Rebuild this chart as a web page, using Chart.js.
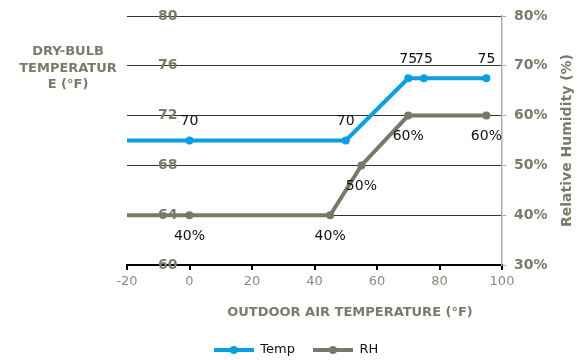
<!DOCTYPE html>
<html>
<head>
<meta charset="utf-8">
<script src="https://cdn.jsdelivr.net/npm/chart.js@4/dist/chart.umd.min.js"></script>
<style>
  html, body { margin: 0; padding: 0; background: #fff; }
  #wrap { width: 580px; height: 360px; }
</style>
</head>
<body>
<div id="wrap"><canvas id="chart"></canvas></div>
<script>
// outdoor air temperature breakpoints (°F) for each series
const tempX = [-20, 0, 50, 70, 75, 95];
const tempY = [70, 70, 70, 75, 75, 75];
const rhX = [-20, 0, 45, 55, 70, 95];
const rhY = [40, 40, 40, 50, 60, 60];

const xTicks = [-20, 0, 20, 40, 60, 80, 100];
const tempTicks = [60, 64, 68, 72, 76, 80];
const rhTicks = [30, 40, 50, 60, 70, 80];

const BLUE = '#0a9fe0';
const OLIVE = '#7a7967';
const LABEL_GRAY = '#7c7b6b';
const FONT = '"DejaVu Sans", Verdana, sans-serif';

// where the plot box and legend row should sit
const AREA_TOP = 16;
const AREA_BOTTOM = 265;
const LEGEND_MID = 346;
const PAD_LEFT = 12;
let xAxisHeight = 58;

function pairs(xs, ys) {
    return xs.map((x, i) => ({ x: x, y: ys[i] }));
}

// legend swatch: a short thick line with a dot in the middle
function swatch(color) {
    const c = document.createElement('canvas');
    c.width = 40; c.height = 10;
    const g = c.getContext('2d');
    g.strokeStyle = color;
    g.lineWidth = 4;
    g.beginPath(); g.moveTo(0, 5); g.lineTo(40, 5); g.stroke();
    g.fillStyle = color;
    g.beginPath(); g.arc(20, 5, 4, 0, Math.PI * 2); g.fill();
    return c;
}

// value labels above the temperature points and below the humidity points
const valueLabels = {
    id: 'valueLabels',
    afterDatasetsDraw(chart) {
        const ctx = chart.ctx;
        ctx.save();
        ctx.font = '14px ' + FONT;
        ctx.fillStyle = '#111';
        ctx.textAlign = 'center';
        ctx.textBaseline = 'middle';
        chart.data.datasets.forEach((ds, di) => {
            const meta = chart.getDatasetMeta(di);
            meta.data.forEach((pt, i) => {
                if (i === 0) return;
                const v = ds.data[i].y;
                if (di === 0) {
                    ctx.fillText(String(v), pt.x, pt.y - 19);
                } else {
                    ctx.fillText(v + '%', pt.x, pt.y + 21);
                }
            });
        });
        ctx.restore();
    }
};

// axis titles (left one is horizontal and wrapped, right one reads upward)
const axisTitles = {
    id: 'axisTitles',
    afterDraw(chart) {
        const ctx = chart.ctx;
        const area = chart.chartArea;
        ctx.save();
        ctx.font = 'bold 13px ' + FONT;
        ctx.fillStyle = LABEL_GRAY;
        ctx.textAlign = 'center';
        ctx.textBaseline = 'middle';

        ['DRY-BULB', 'TEMPERATUR', 'E (°F)'].forEach((line, i) => {
            ctx.fillText(line, 68, 52 + i * 16.5);
        });

        ctx.fillText('OUTDOOR AIR TEMPERATURE (°F)', 350, 313);

        ctx.font = 'bold 14px ' + FONT;
        ctx.translate(567, (area.top + area.bottom) / 2);
        ctx.rotate(-Math.PI / 2);
        ctx.fillText('Relative Humidity (%)', 0, 0);
        ctx.restore();
    }
};

const chart = new Chart(document.getElementById('chart'), {
    type: 'line',
    data: {
        datasets: [
            {
                label: 'Temp',
                data: pairs(tempX, tempY),
                yAxisID: 'y',
                borderColor: BLUE,
                backgroundColor: BLUE,
                borderWidth: 4,
                pointRadius: c => c.dataIndex === 0 ? 0 : 4,
                pointBorderWidth: 0,
                tension: 0
            },
            {
                label: 'RH',
                data: pairs(rhX, rhY),
                yAxisID: 'y2',
                borderColor: OLIVE,
                backgroundColor: OLIVE,
                borderWidth: 4,
                pointRadius: c => c.dataIndex === 0 ? 0 : 4,
                pointBorderWidth: 0,
                tension: 0
            }
        ]
    },
    options: {
        responsive: true,
        maintainAspectRatio: false,
        animation: false,
        clip: false,
        layout: { padding: { top: AREA_TOP, bottom: 0, left: PAD_LEFT, right: 0 } },
        plugins: {
            tooltip: { enabled: false },
            legend: {
                position: 'bottom',
                labels: {
                    usePointStyle: true,
                    pointStyleWidth: 40,
                    padding: 18,
                    color: '#111',
                    font: { family: FONT, size: 13 },
                    generateLabels(chart) {
                        return chart.data.datasets.map((ds, i) => ({
                            text: ds.label,
                            pointStyle: swatch(ds.borderColor),
                            fontColor: '#111',
                            lineWidth: 0,
                            datasetIndex: i
                        }));
                    }
                }
            }
        },
        scales: {
            x: {
                type: 'linear',
                min: -20,
                max: 100,
                afterBuildTicks: s => { s.ticks = xTicks.map(v => ({ value: v })); },
                afterFit: s => { s.height = xAxisHeight; },
                grid: { drawOnChartArea: false, drawTicks: true, tickLength: 5, color: '#000', lineWidth: 2 },
                border: { display: true, color: '#000', width: 2 },
                ticks: { color: '#8a897d', padding: 4, font: { family: FONT, size: 13 } }
            },
            y: {
                position: 'left',
                min: 60,
                max: 80,
                afterBuildTicks: s => { s.ticks = tempTicks.map(v => ({ value: v })); },
                // mirrored labels sit inside the plot, so they need no room of their own
                afterFit: s => { s.width = 127 - PAD_LEFT; s.paddingTop = 0; s.paddingBottom = 0; },
                grid: { color: '#333', lineWidth: 1, drawTicks: false },
                border: { display: false },
                ticks: { mirror: true, padding: 31, color: LABEL_GRAY, font: { family: FONT, size: 14, weight: 'bold' } }
            },
            y2: {
                position: 'right',
                min: 30,
                max: 80,
                afterBuildTicks: s => { s.ticks = rhTicks.map(v => ({ value: v })); },
                afterFit: s => { s.width = 78; s.paddingTop = 0; s.paddingBottom = 0; },
                grid: { drawOnChartArea: false, drawTicks: true, tickLength: 4, color: '#aaa' },
                border: { display: true, color: '#aaa', width: 1.5 },
                ticks: {
                    padding: 8,
                    color: LABEL_GRAY,
                    font: { family: FONT, size: 14, weight: 'bold' },
                    callback: v => v + '%'
                }
            }
        }
    },
    plugins: [valueLabels, axisTitles]
});

// second pass: pin the plot box and the legend row to fixed rows
(function pinLayout() {
    const pad = chart.options.layout.padding;
    const legendH = chart.legend.height;
    pad.top += AREA_TOP - chart.chartArea.top;
    pad.bottom = 360 - (LEGEND_MID + legendH / 2);
    xAxisHeight = (LEGEND_MID - legendH / 2) - AREA_BOTTOM;
    chart.update();
})();
</script>
</body>
</html>
